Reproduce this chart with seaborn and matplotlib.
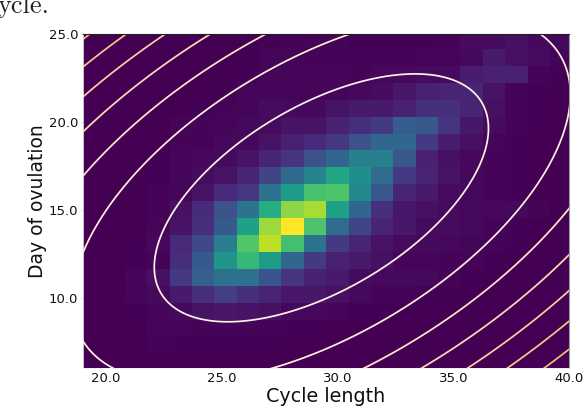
import numpy as np
import matplotlib
matplotlib.use('Agg')
import matplotlib.pyplot as plt
import seaborn as sns

# histogram cells, top row first, 22 columns (cycle length) x 20 rows (day of ovulation)
row00 = [0, 0, 0, 0, 0, .002, .002, .003, .005, .01, .01, .008, .006, .004, .004, .006, .01, .03, .03, .04, .02, .02]
row01 = [0, 0, 0, 0, 0, .002, .002, .004, .012, .01, .01, .01, .01, .01, .01, .012, .015, .02, .07, .04, .03, .01]
row02 = [0, 0, 0, 0, 0, .002, .003, .005, .012, .012, .012, .012, .01, .02, .02, .03, .03, .08, .09, .09, .01, .005]
row03 = [0, 0, 0, 0, 0, .002, .004, .012, .015, .012, .012, .015, .02, .03, .06, .09, .1, .1, .05, .01, .005, .003]
row04 = [0, 0, 0, 0, .002, .004, .008, .014, .03, .02, .02, .05, .07, .07, .09, .14, .14, .1, .04, .01, .005, .003]
row05 = [0, 0, 0, 0, .01, .01, .015, .02, .03, .05, .05, .09, .13, .17, .29, .27, .15, .06, .03, .01, .005, .003]
row06 = [0, 0, 0, .003, .01, .01, .02, .02, .05, .09, .12, .16, .25, .33, .33, .17, .08, .04, .015, .005, .003, .002]
row07 = [0, 0, 0, .004, .015, .02, .03, .05, .1, .15, .25, .33, .43, .43, .27, .09, .04, .02, .01, .005, .003, .002]
row08 = [0, 0, 0, .005, .015, .03, .05, .1, .2, .34, .45, .59, .49, .35, .17, .1, .05, .02, .01, .005, .003, .002]
row09 = [0, 0, .002, .01, .015, .05, .12, .16, .38, .55, .71, .72, .47, .27, .1, .07, .03, .02, .01, .005, .003, .002]
row10 = [0, 0, .002, .01, .04, .12, .25, .38, .62, .83, .87, .57, .33, .14, .06, .04, .03, .02, .02, .02, .01, .003]
row11 = [0, 0, .002, .015, .05, .13, .28, .57, .85, 1.0, .72, .35, .2, .1, .06, .03, .03, .02, .01, .005, .003, .002]
row12 = [0, 0, .005, .02, .12, .22, .42, .73, .9, .7, .38, .17, .1, .05, .03, .025, .02, .015, .01, .005, .002, .001]
row13 = [0, 0, .005, .01, .13, .28, .52, .67, .55, .33, .17, .09, .07, .04, .015, .015, .01, .01, .005, .003, .002, .001]
row14 = [0, 0, .018, .04, .17, .3, .37, .37, .26, .15, .09, .07, .03, .02, .02, .02, .01, .005, .003, .002, .001, .001]
row15 = [0, 0, .012, .025, .07, .13, .18, .14, .1, .06, .06, .04, .02, .01, .008, .006, .004, .003, .002, .001, .001, 0]
row16 = [0, 0, .006, .015, .02, .05, .06, .05, .04, .02, .02, .012, .006, .004, .003, .002, .001, .001, .001, 0, 0, 0]
row17 = [0, 0, .002, .012, .012, .01, .01, .01, .01, .006, .004, .003, .002, .001, .001, .001, 0, 0, 0, 0, 0, 0]
row18 = [0, 0, 0, .01, .006, .005, .004, .004, .004, .002, .001, .001, .001, 0, 0, 0, 0, 0, 0, 0, 0, 0]
row19 = [0, 0, 0, .001, .001, .002, .002, .002, .002, .001, .001, 0, 0, 0, 0, 0, 0, 0, 0, 0, 0, 0]
hist_rows = [row00, row01, row02, row03, row04, row05, row06, row07, row08, row09,
             row10, row11, row12, row13, row14, row15, row16, row17, row18, row19]

# gaussian fitted over the histogram
mean_len = 29.3
mean_day = 15.68
sd_len = 7.22
sd_day = 7.05
rho = 0.56
dist_levels = [1.0, 2.22, 3.42, 4.62, 5.83, 7.05, 8.33]
line_colors = ['#fff4e8', '#fff1df', '#fee9cf', '#fedcb6', '#fecfa0', '#fec48c', '#fdb97c']

x_ticks = [20.0, 25.0, 30.0, 35.0, 40.0]
y_ticks = [10.0, 15.0, 20.0, 25.0]

# where the cell grid sits in data units
x_start, x_step = 18.87, 0.967
y_start, y_step = 25.11, 0.962


def to_col(v):
    return (np.asarray(v) - x_start) / x_step


def to_row(v):
    return (y_start - np.asarray(v)) / y_step


fig = plt.figure(figsize=(5.84, 4.08), dpi=100)
ax = fig.add_axes([83 / 584, 1 - 368 / 408, (569 - 83) / 584, (368 - 34) / 408])

sns.heatmap(np.array(hist_rows), ax=ax, cmap='viridis', vmin=0, vmax=1, cbar=False,
            xticklabels=False, yticklabels=False, rasterized=True)

# contour lines of the gaussian, in cell coordinates
gx, gy = np.meshgrid(np.linspace(18, 41, 400), np.linspace(5, 26, 400))
zx = (gx - mean_len) / sd_len
zy = (gy - mean_day) / sd_day
dist2 = (zx ** 2 + zy ** 2 - 2 * rho * zx * zy) / (1 - rho ** 2)
ax.contour(to_col(gx), to_row(gy), dist2, levels=dist_levels, colors=line_colors, linewidths=1.25)

ax.set_xlim(to_col(19), to_col(40))
ax.set_ylim(to_row(6), to_row(25))

ax.set_xticks(to_col(x_ticks))
ax.set_xticklabels([f'{t:.1f}' for t in x_ticks], fontsize=9.5, rotation=0)
ax.set_yticks(to_row(y_ticks))
ax.set_yticklabels([f'{t:.1f}' for t in y_ticks], fontsize=9.5, rotation=0)
ax.tick_params(axis='x', length=0, pad=2.8, colors='#111111')
ax.tick_params(axis='y', length=1.5, width=0.5, pad=2, color='#bbbbbb', labelcolor='#111111')

ax.set_xlabel('Cycle length', fontsize=13.8, labelpad=1.5, color='#111111')
ax.set_ylabel('Day of ovulation', fontsize=13.5, labelpad=1.5, color='#111111')

# the frame came out uneven in the original
for side, col, lw in [('top', '#222222', 0.8), ('right', '#999999', 0.8),
                      ('left', '#e6e6e6', 0.6), ('bottom', '#eeeeee', 0.6)]:
    ax.spines[side].set_visible(True)
    ax.spines[side].set_color(col)
    ax.spines[side].set_linewidth(lw)

# tail of the sentence above the figure in the paper
fig.text(-3 / 584, 1 - 13 / 408, 'ycle.', family='cmr10', fontsize=19, color='#222222')

fig.savefig('out.png', dpi=100)
